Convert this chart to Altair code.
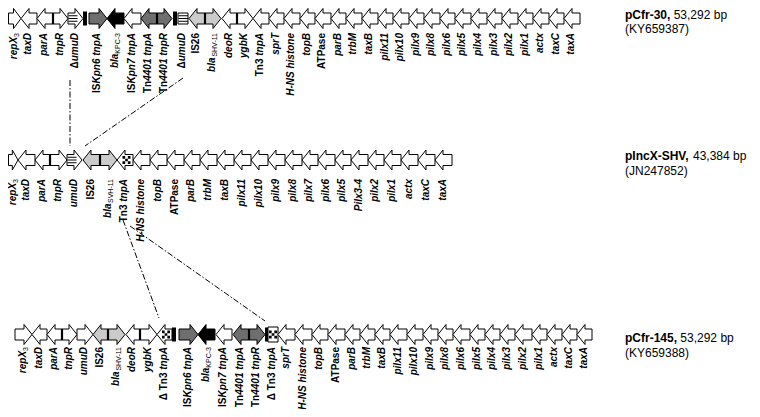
import altair as alt
import pandas as pd

# ------------------------------------------------------------------ data
plasmid_names = ["pCfr-30,", "pIncX-SHV,", "pCfr-145,"]
plasmid_sizes = ["53,292 bp", "43,384 bp", "53,292 bp"]
plasmid_accessions = ["(KY659387)", "(JN247852)", "(KY659388)"]

# gene labels: segments "style:text" joined by "|"  (i = italic, n = upright, s = subscript)
top_genes = ["i:repX|s:3", "i:taxD", "i:parA", "i:tnpR", "n:Δ|i:umuD", "n:IS|i:Kpn6 tnpA",
             "i:bla|s:KPC-3", "n:IS|i:Kpn7 tnpA", "n:Tn|i:4401 tnpA", "n:Tn|i:4401 tnpR",
             "n:Δ|i:umuD", "n:IS26", "i:bla|s:SHV-11", "i:deoR", "i:ygbK", "n:Tn3|i: tnpA",
             "i:sprT", "i:H-NS histone", "i:topB", "n:ATPase", "i:parB", "i:trbM", "i:taxB",
             "i:pilx11", "i:pilx10", "i:pilx9", "i:pilx8", "i:pilx6", "i:pilx5", "i:pilx4",
             "i:pilx3", "i:pilx2", "i:pilx1", "i:actx", "i:taxC", "i:taxA"]
top_start = [8.5, 21, 37, 53, 68, 89, 107, 124, 141, 157, 178, 189, 205, 222, 237, 253, 269,
             284, 300, 315, 331, 346, 362, 378, 393, 409, 424, 440, 455, 471, 487, 502, 518,
             533, 549, 564]
top_end = [21, 37, 53, 68, 83, 107, 124, 141, 157, 172, 188, 205, 221, 237, 253, 269, 284,
           300, 315, 331, 346, 362, 378, 393, 409, 424, 440, 455, 471, 487, 502, 518, 533,
           549, 564, 580]
top_strand = [1, -1, -1, 1, 1, 1, -1, -1, -1, 1, 0, -1, 1, -1, 1] + [-1] * 21
top_kind = ["plain", "plain", "plain", "plain", "umuD", "ISKpn", "KPC", "plain", "ISKpn",
            "ISKpn", "umuD", "SHV", "SHV", "plain", "plain"] + ["plain"] * 21

mid_genes = ["i:repX|s:3", "i:taxD", "i:parA", "i:tnpR", "i:umuD", "n:IS26", "i:bla|s:SVH-11",
             "n:Tn3|i: tnpA", "i:H-NS histone", "i:topB", "n:ATPase", "i:parB", "i:trbM",
             "i:taxB", "i:pilx11", "i:pilx10", "i:pilx9", "i:pilx8", "i:pilx7", "i:pilx6",
             "i:pilx5", "i:Pilx3-4", "i:pilx2", "i:pilx1", "i:actx", "i:taxC", "i:taxA"]
mid_start = [8.5, 18, 35, 50, 67, 83, 100, 117, 133, 150, 167, 184, 200, 217, 234, 251, 268,
             285, 302, 318, 335, 351, 368, 384, 401, 418, 435]
mid_end = [18, 35, 50, 67, 82, 100, 117, 133, 150, 167, 184, 200, 217, 234, 251, 268, 285,
           302, 318, 335, 351, 368, 384, 401, 418, 435, 452]
mid_strand = [1, -1, -1, 1, 1, -1, 1] + [-1] * 20
mid_kind = ["plain", "plain", "plain", "plain", "umuD", "SHV", "SHV", "Tn3"] + ["plain"] * 19

bot_genes = ["i:repX|s:3", "i:taxD", "i:parA", "i:tnpR", "i:umuD", "n:IS26", "i:bla|s:SHV-11",
             "i:deoR", "i:ygbK", "n:Δ Tn3|i: tnpA", "n:IS|i:Kpn6 tnpA", "i:bla|s:KPC-3",
             "n:IS|i:Kpn7 tnpA", "n:Tn|i:4401 tnpA", "n:Tn|i:4401 tnpR", "n:Δ Tn3|i: tnpA",
             "i:sprT", "i:H-NS histone", "i:topB", "n:ATPase", "i:parB", "i:trbM", "i:taxB",
             "i:pilx11", "i:pilx10", "i:pilx9", "i:pilx8", "i:pilx6", "i:pilx5", "i:pilx4",
             "i:pilx3", "i:pilx2", "i:pilx1", "i:actx", "i:taxC", "i:taxA"]
bot_start = [15, 32, 47, 62, 77, 93, 108, 126, 140, 157, 179, 198, 216, 233, 249, 268, 278,
             295, 312, 328, 345, 360, 375, 390, 407, 423, 438, 453, 470, 485, 500, 515, 532,
             547, 562, 577]
bot_end = [32, 47, 62, 77, 93, 108, 125, 140, 157, 172, 198, 215, 232, 249, 265, 278, 295,
           312, 328, 345, 360, 375, 390, 407, 423, 438, 453, 470, 485, 500, 515, 532, 547,
           562, 577, 592]
bot_strand = [1, -1, -1, 1, 1, -1, 1, -1, 1, -1, 1, -1, -1, -1, 1, 0] + [-1] * 20
bot_kind = ["plain", "plain", "plain", "plain", "plain", "SHV", "SHV", "plain", "plain", "Tn3",
            "ISKpn", "KPC", "plain", "ISKpn", "ISKpn", "Tn3"] + ["plain"] * 20

# inverted-repeat style black bars
ir_row = [0, 0, 2, 2]
ir_start = [83, 173, 172, 265]
ir_end = [87, 177, 176, 268]

# dash-dot alignment connectors (map units)
conn_x1 = [70, 183, 123, 130]
conn_y1 = [80, 78, 220, 226]
conn_x2 = [70, 85, 159, 265]
conn_y2 = [146, 146, 318, 321]

# ------------------------------------------------------------------ layout / style
ROW_Y = [18.5, 160, 334.5]
LABEL_TOP = [33, 179, 347]
TITLE_Y = [(18.5, 32.5), (160, 175), (342, 357)]
TITLE_X = 625
LABEL_MIN_X = 13
HALF, SHAFT, HEAD = 10.0, 5.5, 8.0
FILLS = {"plain": "#ffffff", "ISKpn": "#6e6e6e", "KPC": "#000000", "SHV": "#cbcbcb",
         "umuD": "#ffffff", "Tn3": "#ffffff"}
FONT = "Liberation Sans"

low = "abcdefghijklmnopqrstuvwxyz"
up = "ABCDEFGHIJKLMNOPQRSTUVWXYZ"
BOLD = dict(zip(low, [556, 611, 556, 611, 556, 333, 611, 611, 278, 278, 556, 278, 889, 611, 611,
                      611, 611, 389, 556, 333, 611, 556, 778, 556, 556, 500]))
BOLD.update(zip(up, [722, 722, 722, 722, 667, 611, 778, 722, 278, 556, 722, 611, 833, 722, 778,
                     667, 778, 722, 667, 611, 722, 667, 944, 667, 667, 611]))
REG = dict(zip(low, [556, 556, 500, 556, 556, 278, 556, 556, 222, 222, 500, 222, 833, 556, 556,
                     556, 556, 333, 500, 278, 556, 500, 722, 500, 500, 500]))
REG.update(zip(up, [667, 667, 722, 722, 667, 611, 778, 722, 278, 500, 667, 556, 833, 722, 778,
                    667, 778, 722, 667, 611, 722, 667, 944, 667, 667, 611]))
for t in (BOLD, REG):
    t.update({d: 556 for d in "0123456789"})
    t.update({" ": 278, "-": 333, ",": 278, "(": 333, ")": 333})
BOLD["Δ"] = 722
REG["Δ"] = 668


def text_w(txt, table, size):
    return sum(table.get(ch, 556) for ch in txt) * size / 1000.0


def fmt(v):
    return f"{v:.4f}".rstrip("0").rstrip(".")


def path(pts):
    return "M" + "L".join(f"{fmt(px)},{fmt(py)}" for px, py in pts) + "Z"


rows = [
    (top_genes, top_start, top_end, top_strand, top_kind),
    (mid_genes, mid_start, mid_end, mid_strand, mid_kind),
    (bot_genes, bot_start, bot_end, bot_strand, bot_kind),
]

U = HALF  # one unit of a custom symbol path = HALF pixels (symbol size = (2*U)^2)
genes, stripes, checks, bars, labels = [], [], [], [], []
for r, (names, st, en, sd, kd) in enumerate(rows):
    c = ROW_Y[r]
    for i in range(len(names)):
        s, e, d, k = st[i], en[i], sd[i], kd[i]
        h = min(HEAD, 0.6 * (e - s))
        a = (e - s) / 2 / U
        hl = h / U
        sh = SHAFT / U
        if d > 0:
            pts = [(-a, -sh), (a - hl, -sh), (a - hl, -1), (a, 0), (a - hl, 1), (a - hl, sh),
                   (-a, sh)]
        elif d < 0:
            pts = [(a, -sh), (-a + hl, -sh), (-a + hl, -1), (-a, 0), (-a + hl, 1),
                   (-a + hl, sh), (a, sh)]
        else:
            b = sh if k == "umuD" else 0.75
            pts = [(-a, -b), (a, -b), (a, b), (-a, b)]
        genes.append(dict(x=(s + e) / 2, y=c, shape=path(pts), fill=FILLS[k]))
        if k == "umuD":
            x2 = e if d == 0 else (e - h + 2.5)
            for off in (-2.75, 0, 2.75):
                stripes.append(dict(x=s + 0.5, x2=x2, y=c + off))
        if k == "Tn3":
            cx = (s + e) / 2 + (1.5 if d < 0 else 0)
            checks.append(dict(x=cx, y=c))
        # junction bar where two tails meet
        if i + 1 < len(names) and d < 0 and sd[i + 1] > 0 and e == st[i + 1]:
            bars.append(dict(x=e, y=c - SHAFT, y2=c + SHAFT))
        # label segments, stacked from the top end of the rotated text
        segs = [p.split(":", 1) for p in names[i].split("|")]
        acc = 0.0
        xc = max((s + e) / 2 - 1, LABEL_MIN_X)
        for sty, txt in reversed(segs):
            w = text_w(txt, REG, 7) if sty == "s" else text_w(txt, BOLD, 10)
            labels.append(dict(x=xc, y=LABEL_TOP[r] + acc, text=txt.strip(), style=sty))
            acc += w

irs = [dict(x=ir_start[i], x2=ir_end[i], y=ROW_Y[ir_row[i]] - 7, y2=ROW_Y[ir_row[i]] + 7)
       for i in range(len(ir_row))]
conns = pd.DataFrame(dict(x=conn_x1, y=conn_y1, x2=conn_x2, y2=conn_y2))

titles = []
for r in range(3):
    yb, ya = TITLE_Y[r]
    titles.append(dict(x=TITLE_X, y=yb, text=plasmid_names[r], style="b"))
    off = text_w(plasmid_names[r], BOLD, 12) + text_w(" ", REG, 12)
    titles.append(dict(x=TITLE_X + off, y=yb, text=plasmid_sizes[r], style="r"))
    titles.append(dict(x=TITLE_X, y=ya, text=plasmid_accessions[r], style="r"))

genes = pd.DataFrame(genes)
stripes = pd.DataFrame(stripes)
checks = pd.DataFrame(checks)
bars = pd.DataFrame(bars)
labels = pd.DataFrame(labels)
irs = pd.DataFrame(irs)
titles = pd.DataFrame(titles)

# ------------------------------------------------------------------ chart
W, H = 744, 401
xs = alt.Scale(domain=[8, 8 + W], nice=False, zero=False)
ys = alt.Scale(domain=[8, 8 + H], nice=False, zero=False, reverse=True)


def X(f):
    return alt.X(f"{f}:Q", scale=xs, axis=None)


def Y(f):
    return alt.Y(f"{f}:Q", scale=ys, axis=None)


cells = [(i, j) for i in range(3) for j in range(3) if (i + j) % 2 == 0]
CHECKER = " ".join(
    path([(-1 + i * 2 / 3, -1 + j * 2 / 3), (-1 + (i + 1) * 2 / 3, -1 + j * 2 / 3),
          (-1 + (i + 1) * 2 / 3, -1 + (j + 1) * 2 / 3), (-1 + i * 2 / 3, -1 + (j + 1) * 2 / 3)])
    for i, j in cells)

conn_layer = alt.Chart(conns).mark_rule(color="black", strokeWidth=1,
                                         strokeDash=[6, 2, 1.5, 2]).encode(
    x=X("x"), y=Y("y"), x2="x2:Q", y2="y2:Q")

gene_layer = alt.Chart(genes).mark_point(filled=True, stroke="black", strokeWidth=1,
                                         opacity=1, fillOpacity=1, strokeOpacity=1,
                                         strokeJoin="miter").encode(
    x=X("x"), y=Y("y"),
    shape=alt.Shape("shape:N", scale=None),
    fill=alt.Fill("fill:N", scale=None),
    size=alt.value((2 * U) ** 2))

stripe_layer = alt.Chart(stripes).mark_rule(color="black", strokeWidth=1).encode(
    x=X("x"), x2="x2:Q", y=Y("y"))

check_layer = alt.Chart(checks).mark_point(shape=CHECKER, filled=True, color="black",
                                           size=64, opacity=1, strokeWidth=0).encode(
    x=X("x"), y=Y("y"))

bar_layer = alt.Chart(bars).mark_rule(color="black", strokeWidth=2.2).encode(
    x=X("x"), y=Y("y"), y2="y2:Q")

ir_layer = alt.Chart(irs).mark_rect(color="black").encode(
    x=X("x"), x2="x2:Q", y=Y("y"), y2="y2:Q")

lab_i = alt.Chart(labels).transform_filter(alt.datum.style == "i").mark_text(
    angle=270, align="right", baseline="middle", font=FONT, fontSize=10,
    fontWeight="bold", fontStyle="italic", color="black").encode(
    x=X("x"), y=Y("y"), text="text:N")
lab_n = alt.Chart(labels).transform_filter(alt.datum.style == "n").mark_text(
    angle=270, align="right", baseline="middle", font=FONT, fontSize=10,
    fontWeight="bold", color="black").encode(
    x=X("x"), y=Y("y"), text="text:N")
lab_s = alt.Chart(labels).transform_filter(alt.datum.style == "s").mark_text(
    angle=270, align="right", baseline="middle", font=FONT, fontSize=7, dy=3,
    fontWeight="normal", color="black").encode(
    x=X("x"), y=Y("y"), text="text:N")

title_b = alt.Chart(titles).transform_filter(alt.datum.style == "b").mark_text(
    align="left", baseline="alphabetic", font=FONT, fontSize=12, fontWeight="bold",
    color="black").encode(x=X("x"), y=Y("y"), text="text:N")
title_r = alt.Chart(titles).transform_filter(alt.datum.style == "r").mark_text(
    align="left", baseline="alphabetic", font=FONT, fontSize=12, fontWeight="normal",
    color="black").encode(x=X("x"), y=Y("y"), text="text:N")

chart = alt.layer(conn_layer, gene_layer, stripe_layer, check_layer, bar_layer, ir_layer,
                  lab_i, lab_n, lab_s, title_b, title_r).properties(
    width=W, height=H, padding=0, autosize="none", background="white"
).configure_view(stroke=None)

chart.save("out.html", embed_options={"renderer": "svg", "actions": False})
